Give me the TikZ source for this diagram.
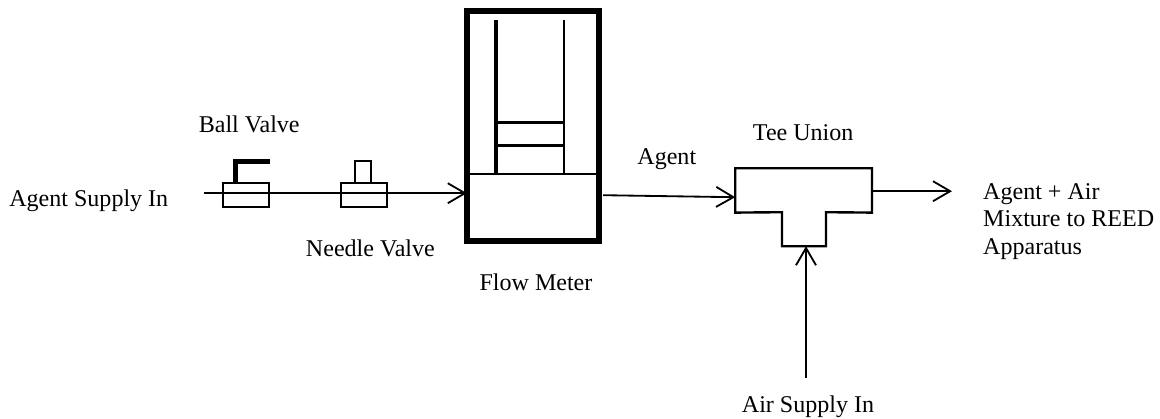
\documentclass[tikz,border=0pt]{standalone}
\usepackage{fontspec}
\setmainfont{Liberation Serif}
\usetikzlibrary{arrows.meta}
\tikzstyle{boxValve} = [rectangle, draw=black, line width=1.5pt, inner sep=0pt, outer sep=0pt, fill=none]
\tikzstyle{boxMeter} = [rectangle, draw=black, line width=4pt, inner sep=0pt, outer sep=0pt, minimum width=3.3cm, minimum height=5.75cm]
\tikzstyle{boxHidden} = [rectangle, inner sep=0pt, outer sep=0pt]
\tikzstyle{labelText} = [inner sep=0pt, outer sep=0pt, font=\fontsize{17.1}{19.6}\selectfont, align=left]
\tikzstyle{arrow} = [line width=1.3pt, -{Straight Barb[length=0.43cm, width=0.5cm]}]
\tikzstyle{thickLine} = [draw=black, line width=1.7pt]

\begin{document}
\begin{tikzpicture}

\useasboundingbox (0,0) rectangle (29,-10.475);

\node (ballLabel) [labelText, xshift = 6.23cm, yshift = -3.1cm] {Ball Valve};

\node (supplyLabel) [labelText, xshift = 2.22cm, yshift = -5.03cm] {Agent Supply In};

\node (ballValve) [boxValve, minimum width=1.15cm, minimum height=0.6cm, xshift = 6.15cm, yshift = -4.88cm] {};

\node (needleValve) [boxValve, minimum width=1.15cm, minimum height=0.6cm, xshift = 9.1cm, yshift = -4.88cm] {};

\node (needleStem) [boxValve, minimum width=0.4cm, minimum height=0.55cm, xshift = 9.08cm, yshift = -4.3cm] {};

\node (needleLabel) [labelText, xshift = 9.26cm, yshift = -6.2cm] {Needle Valve};

\node (flowMeter) [boxMeter, xshift = 13.32cm, yshift = -3.15cm] {};

\node (flowTube) [boxHidden, minimum width=1.7cm, minimum height=3.85cm, xshift = 13.25cm, yshift = -2.43cm] {};

\node (flowFloat) [boxValve, line width=1.8pt, minimum width=1.7cm, minimum height=0.57cm, xshift = 13.25cm, yshift = -3.35cm] {};

\node (flowLabel) [labelText, xshift = 13.4cm, yshift = -7.06cm] {Flow Meter};

\node (agentLabel) [labelText, xshift = 16.67cm, yshift = -3.99cm] {Agent};

\node (teeBar) [boxHidden, minimum width=3.42cm, minimum height=1.11cm, xshift = 20.09cm, yshift = -4.76cm] {};

\node (teeLeg) [boxHidden, minimum width=1.1cm, minimum height=0.85cm, xshift = 20.1cm, yshift = -5.73cm] {};

\node (teeLabel) [labelText, xshift = 20.08cm, yshift = -3.31cm] {Tee Union};

\node (mixtureLabel) [labelText, anchor=north west, xshift = 24.58cm, yshift = -4.58cm] {Agent + Air\\Mixture to REED\\Apparatus};

\node (airLabel) [labelText, xshift = 20.2cm, yshift = -10.16cm] {Air Supply In};

\coordinate (supplyIn) at (5.1,-4.83);
\coordinate (meterOut) at (15.08,-4.88);
\coordinate (teeIn) at (18.38,-4.93);
\coordinate (teeOut) at (21.8,-4.78);
\coordinate (mixtureOut) at (23.8,-4.78);
\coordinate (airIn) at (20.15,-9.45);
\coordinate (ballHandle) at (5.89,-4.575);
\coordinate (ballHandleEnd) at (6.75,-4.04);

\draw[arrow] (supplyIn) -- (supplyIn -| flowMeter.west);
\draw[arrow] (meterOut) -- (teeIn);
\draw[arrow] (teeOut) -- (mixtureOut);
\draw[arrow] (airIn) -- (airIn |- teeLeg.south);

\draw[line width=3.5pt] (ballHandle) |- (ballHandleEnd);

\draw[line width=2.4pt] (flowTube.north west) -- (flowTube.south west);
\draw[line width=1.8pt] (flowTube.north east) -- (flowTube.south east);
\draw[line width=1.4pt] (flowMeter.west |- flowTube.south) -- (flowMeter.east |- flowTube.south);

\draw[thickLine] (teeBar.south west) -- (teeBar.north west) -- (teeBar.north east) -- (teeBar.south east) -- (teeLeg.north east) -- (teeLeg.south east) -- (teeLeg.south west) -- (teeLeg.north west) -- cycle;

\end{tikzpicture}
\end{document}
